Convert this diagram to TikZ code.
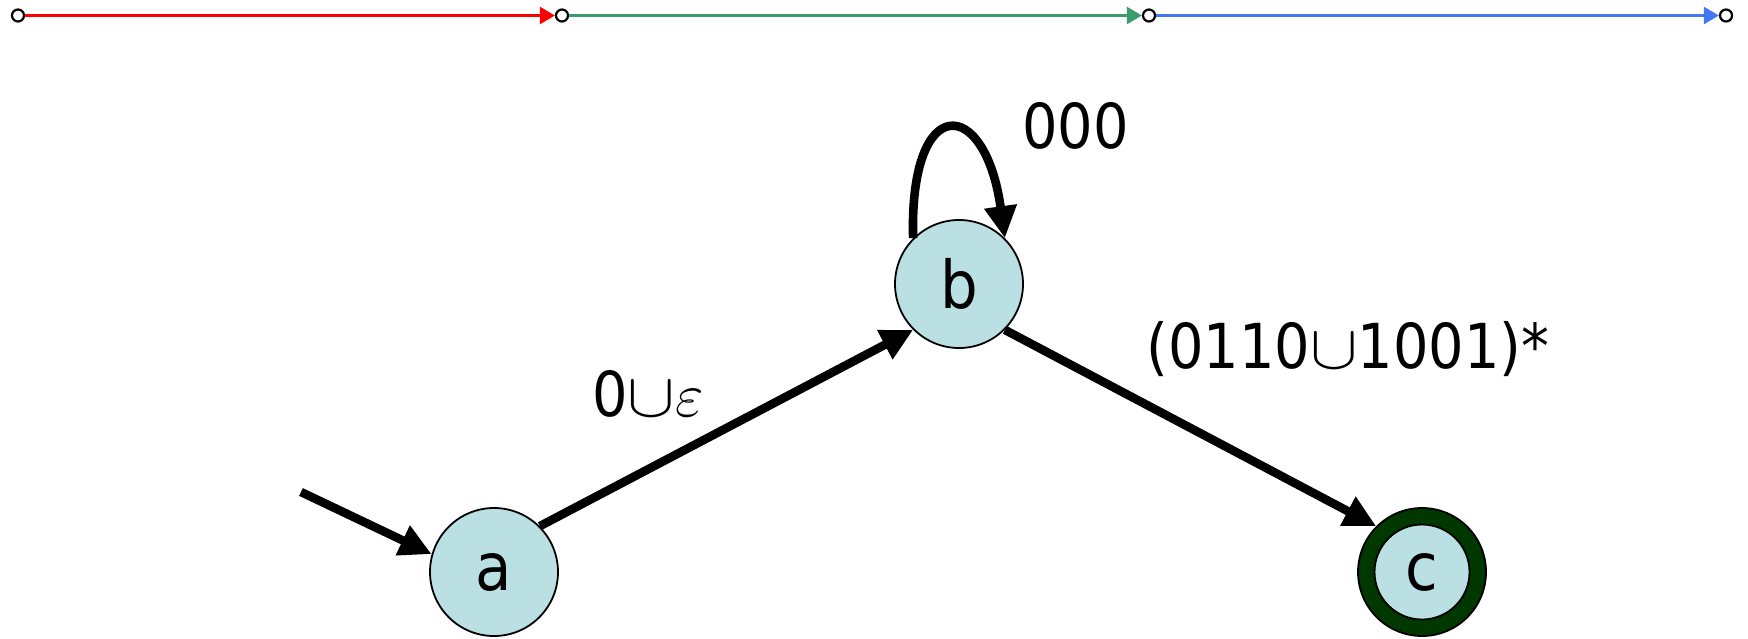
\RequirePackage{fix-cm}
\documentclass[tikz,border=0pt]{standalone}
\usepackage{fontspec}
\setmainfont{DejaVu Sans}[FakeStretch=0.9]
\usetikzlibrary{arrows.meta}
\definecolor{nodefill}{RGB}{186,224,228}
\definecolor{ringgreen}{RGB}{0,56,0}
\definecolor{tgreen}{RGB}{58,157,107}
\definecolor{tblue}{RGB}{68,119,245}
\newcommand{\wideunion}{\scalebox{1.15}[1]{$\cup$}}
\begin{document}
\begin{tikzpicture}[x=0.5pt,y=-0.5pt,
  dot/.style={circle,draw=black,fill=white,line width=1.1pt,minimum size=6pt,inner sep=0pt},
  tline/.style={line width=1.2pt,-{Triangle[length=7.5pt,width=8.5pt]}},
  state/.style={circle,draw=black,line width=0.9pt,fill=nodefill,minimum size=64pt,inner sep=0pt,font=\fontsize{33}{39}\selectfont},
  edge/.style={line width=4.3pt,-{Triangle[length=16pt,width=15.5pt]}},
  lab/.style={inner sep=0pt,anchor=base west,font=\fontsize{31}{37}\selectfont}]
\useasboundingbox (0,0) rectangle (1748,638);
% top line
\node[dot] (t1) at (18,15.5) {};
\node[dot] (t2) at (562,15.5) {};
\node[dot] (t3) at (1149,15.5) {};
\node[dot] (t4) at (1726,15.5) {};
\draw[tline,red] (t1) -- (t2);
\draw[tline,tgreen] (t2) -- (t3);
\draw[tline,tblue] (t3) -- (t4);
% states
\node[state] (a) at (494,572) {a};
\node[state] (b) at (959,284) {b};
\node[state,fill=ringgreen] (c) at (1422,572) {};
\node[state,minimum size=47.5pt] (cin) at (1422,572) {c};
% edges
\coordinate (s) at (301,492);
\draw[edge] (s) -- (a.164);
\draw[edge] (a.45) -- (b.225);
\draw[edge] (b.315) -- (c.135);
\draw[edge] (b.135) .. controls (909,92) and (985,95) .. (b.45);
% labels
\node[lab] (l1) at (592,416) {0\wideunion$\varepsilon$};
\node[lab] (l2) at (1022,148) {000};
\node[lab] (l3) at (1146,368) {(0110\wideunion1001)*};
\end{tikzpicture}
\end{document}
